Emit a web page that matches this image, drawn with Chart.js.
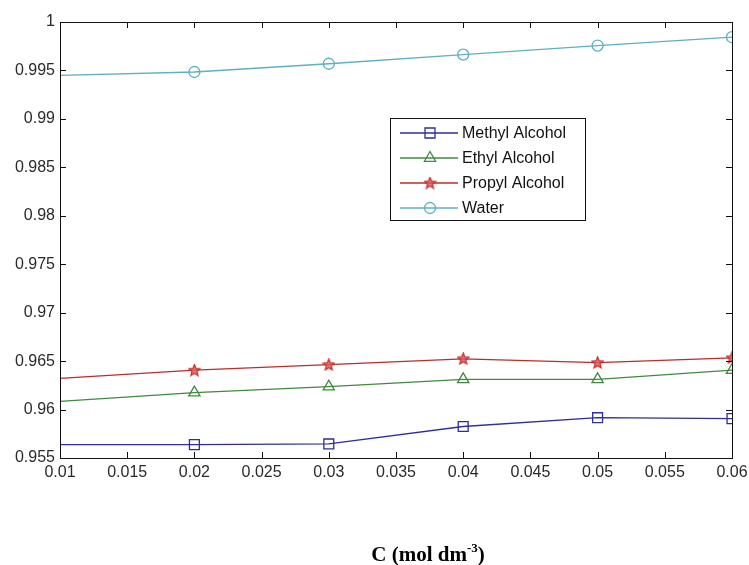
<!DOCTYPE html>
<html>
<head>
<meta charset="utf-8">
<script src="https://cdn.jsdelivr.net/npm/chart.js@4.4.0/dist/chart.umd.min.js"></script>
<style>
    html, body { margin: 0; padding: 0; background: #fff; }
    #wrap { width: 749px; height: 565px; position: relative; }
</style>
</head>
<body>
<div id="wrap"><canvas id="densityChart"></canvas></div>
<script>
var concentration = [0.01, 0.02, 0.03, 0.04, 0.05, 0.06];
var methylAlcohol = [0.95638, 0.95638, 0.95645, 0.95825, 0.95916, 0.95906];
var ethylAlcohol  = [0.96084, 0.96175, 0.96236, 0.96311, 0.96311, 0.96406];
var propylAlcohol = [0.96321, 0.96406, 0.96463, 0.96524, 0.96484, 0.96534];
var water         = [0.99449, 0.99484, 0.99569, 0.99664, 0.99757, 0.99843];

var seriesNames = ['Methyl Alcohol', 'Ethyl Alcohol', 'Propyl Alcohol', 'Water'];
var xTickValues = [0.01, 0.015, 0.02, 0.025, 0.03, 0.035, 0.04, 0.045, 0.05, 0.055, 0.06];
var yTickValues = [0.955, 0.96, 0.965, 0.97, 0.975, 0.98, 0.985, 0.99, 0.995, 1];

var blue = '#2e2e9c';
var green = '#3f8a3f';
var red = '#c02a2a';
var cyan = '#5cb0c2';

// five point star marker (MATLAB 'p')
function makeStar(color) {
    var c = document.createElement('canvas');
    c.width = 13; c.height = 13;
    var g = c.getContext('2d');
    g.beginPath();
    for (var i = 0; i < 10; i++) {
        var r = i % 2 === 0 ? 6 : 2.6;
        var a = -Math.PI / 2 + i * Math.PI / 5;
        g.lineTo(6.5 + r * Math.cos(a), 6.8 + r * Math.sin(a));
    }
    g.closePath();
    g.fillStyle = 'rgba(225, 90, 90, 0.8)';
    g.fill();
    g.strokeStyle = color;
    g.lineWidth = 1.2;
    g.stroke();
    return c;
}
var starMarker = makeStar(red);

function points(ys) {
    return concentration.map(function (x, i) { return {x: x, y: ys[i]}; });
}
function radii(r) {
    return concentration.map(function (x, i) { return i === 0 ? 0 : r; });
}

function fmt(v) {
    return String(Number(v.toFixed(4)));
}

var matlabFrame = {
    id: 'matlabFrame',
    afterDraw: function (chart) {
        var ctx = chart.ctx, a = chart.chartArea;
        var xs = chart.scales.x, ys = chart.scales.y;
        ctx.save();
        ctx.strokeStyle = '#111';
        ctx.lineWidth = 1;
        ctx.strokeRect(Math.round(a.left) + 0.5, Math.round(a.top) + 0.5,
            Math.round(a.right - a.left), Math.round(a.bottom - a.top));
        ctx.beginPath();
        xTickValues.forEach(function (v) {
            var px = Math.round(xs.getPixelForValue(v)) + 0.5;
            ctx.moveTo(px, a.bottom); ctx.lineTo(px, a.bottom - 6);
            ctx.moveTo(px, a.top); ctx.lineTo(px, a.top + 6);
        });
        yTickValues.forEach(function (v) {
            var py = Math.round(ys.getPixelForValue(v)) + 0.5;
            ctx.moveTo(a.left, py); ctx.lineTo(a.left + 6, py);
            ctx.moveTo(a.right, py); ctx.lineTo(a.right - 6, py);
        });
        ctx.stroke();

        // legend box
        var lx = 390, ly = 118, lw = 195, lh = 102;
        ctx.fillStyle = '#fff';
        ctx.fillRect(lx, ly, lw, lh);
        ctx.strokeStyle = '#111';
        ctx.strokeRect(lx + 0.5, ly + 0.5, lw, lh);
        ctx.font = '16px "Liberation Sans", Arial, sans-serif';
        ctx.textBaseline = 'middle';
        chart.data.datasets.forEach(function (ds, i) {
            var cy = ly + 15 + i * 25;
            ctx.strokeStyle = ds.borderColor;
            ctx.lineWidth = 1.3;
            ctx.beginPath();
            ctx.moveTo(lx + 10, cy); ctx.lineTo(lx + 68, cy);
            ctx.stroke();
            var mx = lx + 40;
            ctx.beginPath();
            if (ds.pointStyle === 'rect') {
                ctx.rect(mx - 5, cy - 5, 10, 10);
                ctx.stroke();
            } else if (ds.pointStyle === 'triangle') {
                ctx.moveTo(mx, cy - 6.5); ctx.lineTo(mx + 5.6, cy + 3.3); ctx.lineTo(mx - 5.6, cy + 3.3);
                ctx.closePath();
                ctx.stroke();
            } else if (ds.pointStyle === 'circle') {
                ctx.arc(mx, cy, 5.5, 0, Math.PI * 2);
                ctx.stroke();
            } else {
                ctx.drawImage(ds.pointStyle, mx - 6.5, cy - 6.5);
            }
            ctx.fillStyle = '#111';
            ctx.textAlign = 'left';
            ctx.fillText(seriesNames[i], lx + 72, cy + 1);
        });

        // x axis title with superscript
        ctx.fillStyle = '#000';
        ctx.textBaseline = 'alphabetic';
        ctx.textAlign = 'left';
        var big = 'bold 21px "Liberation Serif", "Times New Roman", serif';
        var small = 'bold 13px "Liberation Serif", "Times New Roman", serif';
        ctx.font = big;
        var w1 = ctx.measureText('C (mol dm').width, w3 = ctx.measureText(')').width;
        ctx.font = small;
        var w2 = ctx.measureText('-3').width;
        var tx = 428 - (w1 + w2 + w3) / 2, base = 561;
        ctx.font = big;
        ctx.fillText('C (mol dm', tx, base);
        ctx.font = small;
        ctx.fillText('-3', tx + w1, base - 9);
        ctx.font = big;
        ctx.fillText(')', tx + w1 + w2, base);
        ctx.restore();
    }
};

var tickFont = {family: '"Liberation Sans", Arial, sans-serif', size: 16};

new Chart(document.getElementById('densityChart'), {
    type: 'line',
    data: {
        datasets: [
            {
                label: seriesNames[0], data: points(methylAlcohol),
                borderColor: blue, borderWidth: 1.3, pointStyle: 'rect',
                pointRadius: radii(7), pointBorderColor: blue, pointBorderWidth: 1.3,
                pointBackgroundColor: 'rgba(0,0,0,0)', tension: 0
            },
            {
                label: seriesNames[1], data: points(ethylAlcohol),
                borderColor: green, borderWidth: 1.3, pointStyle: 'triangle',
                pointRadius: radii(6.5), pointBorderColor: green, pointBorderWidth: 1.3,
                pointBackgroundColor: 'rgba(0,0,0,0)', tension: 0
            },
            {
                label: seriesNames[2], data: points(propylAlcohol),
                borderColor: red, borderWidth: 1.3, pointStyle: starMarker,
                pointRadius: radii(6), pointBorderColor: red,
                pointBackgroundColor: red, tension: 0
            },
            {
                label: seriesNames[3], data: points(water),
                borderColor: cyan, borderWidth: 1.3, pointStyle: 'circle',
                pointRadius: radii(5.5), pointBorderColor: cyan, pointBorderWidth: 1.3,
                pointBackgroundColor: 'rgba(0,0,0,0)', tension: 0
            }
        ]
    },
    options: {
        responsive: true,
        maintainAspectRatio: false,
        animation: false,
        layout: {padding: {top: 22, right: 17, bottom: 0, left: 0}},
        plugins: {legend: {display: false}, tooltip: {enabled: false}},
        scales: {
            x: {
                type: 'linear', min: 0.01, max: 0.06,
                afterBuildTicks: function (axis) {
                    axis.ticks = xTickValues.map(function (v) { return {value: v}; });
                },
                afterFit: function (axis) {
                    axis.height = 107;
                    axis.paddingLeft = 0;
                    axis.paddingRight = 0;
                },
                grid: {display: false, drawTicks: false},
                border: {display: false},
                ticks: {
                    font: tickFont, color: '#2a2a2a', padding: 5, maxRotation: 0,
                    autoSkip: false, callback: function (v) { return fmt(v); }
                }
            },
            y: {
                type: 'linear', min: 0.955, max: 1,
                afterBuildTicks: function (axis) {
                    axis.ticks = yTickValues.map(function (v) { return {value: v}; });
                },
                afterFit: function (axis) {
                    axis.width = 60;
                    axis.paddingTop = 0;
                    axis.paddingBottom = 0;
                },
                grid: {display: false, drawTicks: false},
                border: {display: false},
                ticks: {
                    font: tickFont, color: '#2a2a2a', padding: 5,
                    autoSkip: false, callback: function (v) { return fmt(v); }
                }
            }
        }
    },
    plugins: [matlabFrame]
});
</script>
</body>
</html>
